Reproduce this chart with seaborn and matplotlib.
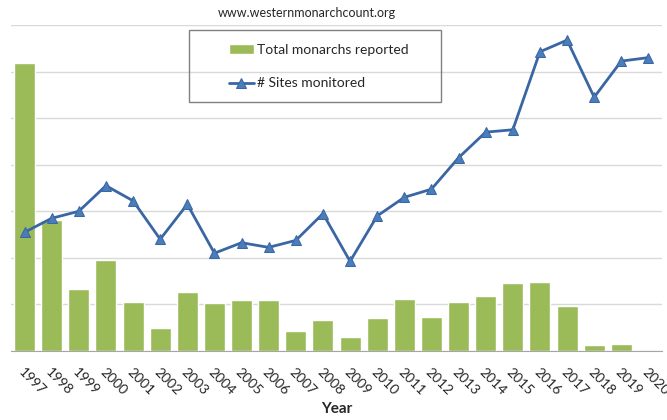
import numpy as np
import pandas as pd
import matplotlib
matplotlib.use("Agg")
import matplotlib.pyplot as plt
import seaborn as sns
from matplotlib.patches import Rectangle

# data (y axes are cropped in the source)
years = [str(y) for y in range(1997, 2021)]
monarchs = [1235490, 564349, 267574, 390057, 209570, 99353, 254378, 205085,
            218679, 221058, 86437, 131889, 58468, 143204, 222525, 144812,
            211275, 234731, 292888, 298464, 192624, 27218, 29418, np.nan]
sites = [102, 114, 120, 142, 129, 96, 126, 84, 93, 89, 95, 118, 77, 116,
         132, 139, 166, 188, 190, 257, 267, 218, 249, 252]

df = pd.DataFrame({"year": years, "monarchs": monarchs, "sites": sites})
df["pos"] = np.arange(len(years))

sns.set_style("white")
plt.rcParams["font.family"] = ["Lato", "DejaVu Sans"]

fig = plt.figure(figsize=(6.67, 4.2), dpi=100)
ax = fig.add_axes([11 / 667, 69 / 420, 651 / 667, 326 / 420])

bar_color = "#9BBB59"
line_color = "#3A66A4"

sns.barplot(data=df, x="year", y="monarchs", order=years, color=bar_color,
            width=0.77, saturation=1, ax=ax)
ax.set_xlim(-0.5, len(years) - 0.5)
ax.set_ylim(0, 1400000)
ax.set_yticks(np.arange(0, 1400001, 200000))
ax.set_yticklabels([])
ax.yaxis.grid(True, color="#d9d9d9", linewidth=1)
ax.set_axisbelow(True)
ax.tick_params(axis="y", length=0)
for s in ["left", "right", "top"]:
    ax.spines[s].set_visible(False)
ax.spines["bottom"].set_color("#a6a6a6")
ax.set_ylabel("")

# Excel-style ticks between categories
ax.set_xticks(np.arange(-0.5, len(years), 1), minor=True)
ax.tick_params(axis="x", which="minor", length=5, color="#a6a6a6", width=1)
ax.tick_params(axis="x", which="major", length=0, pad=11)
for lbl in ax.get_xticklabels():
    lbl.set_rotation(-45)
    lbl.set_ha("left")
    lbl.set_va("top")
    lbl.set_rotation_mode("anchor")
    lbl.set_fontsize(10)
ax.set_xlabel("Year", fontweight="bold", fontsize=11, va="top")
ax.xaxis.set_label_coords(0.5, -0.155)

ax2 = ax.twinx()
sns.lineplot(data=df, x="pos", y="sites", color=line_color, linewidth=2,
             marker="^", markersize=7, markerfacecolor="#4A7EBB",
             markeredgecolor=line_color, ax=ax2)
ax2.set_ylim(0, 280)
ax2.set_xlim(-0.5, len(years) - 0.5)
ax2.set_yticks([])
ax2.set_ylabel("")
ax2.set_xlabel("")
for s in ax2.spines.values():
    s.set_visible(False)

fig.text(307 / 667, 1 - 13 / 420, "www.westernmonarchcount.org",
         ha="center", va="center", fontsize=9)

# legend box
fig.patches.append(Rectangle((189 / 667, 1 - 102 / 420), 252 / 667, 72 / 420,
                             transform=fig.transFigure, fill=False,
                             edgecolor="#808080", linewidth=1))
handles = [ax.patches[0], ax2.get_lines()[0]]
fig.legend(handles, ["Total monarchs reported", "# Sites monitored"],
           loc="upper left", bbox_to_anchor=(222 / 667, 1 - 37 / 420),
           frameon=False, fontsize=10, handlelength=1.8, handletextpad=0.25,
           labelspacing=1.55, borderpad=0)

fig.savefig("out.png", dpi=100)
